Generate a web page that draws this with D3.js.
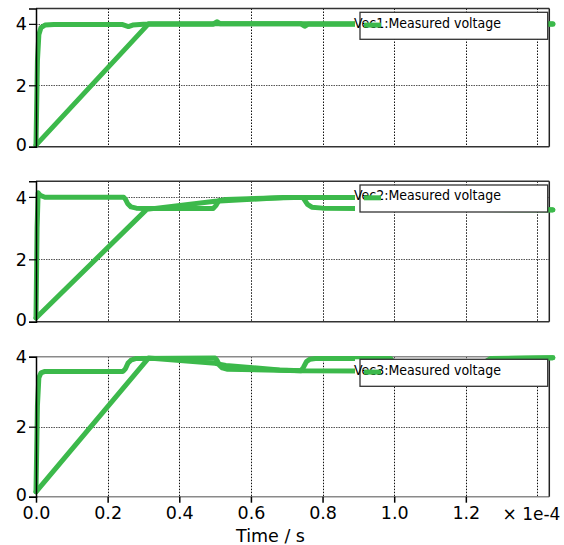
<!DOCTYPE html>
<html>
<head>
<meta charset="utf-8">
<script src="https://cdn.jsdelivr.net/npm/d3@7"></script>
<style>
  html, body { margin: 0; padding: 0; background: #fff; }
  svg { display: block; font-family: "DejaVu Sans", sans-serif; }
</style>
</head>
<body>
<svg id="chart" width="564" height="545"></svg>
<script>
// Time values are in units of 1e-4 s, voltages in V.
const xTickValues = [0, 0.2, 0.4, 0.6, 0.8, 1.0, 1.2];
const xGridValues = [0.2, 0.4, 0.6, 0.8, 1.0, 1.2, 1.4];
const yTickValues = [0, 2, 4];
const legendLabels = ["Vec1:Measured voltage", "Vec2:Measured voltage", "Vec3:Measured voltage"];
const xUnitLabel = "\u00d7 1e-4";
const xAxisTitle = "Time / s";

// Vec1
const vec1FastTime = [0, 0.004, 0.008, 0.014, 0.025, 0.05, 0.24, 0.25, 0.258, 0.27, 0.3, 0.495, 0.505, 0.515, 0.74, 0.75, 0.76, 1.0, 1.25, 1.443];
const vec1FastVolt = [0.05, 2.8, 3.65, 3.88, 3.96, 3.98, 3.98, 3.94, 3.91, 3.96, 3.99, 3.99, 4.07, 4.0, 4.0, 3.92, 3.99, 3.99, 3.99, 3.99];
const vec1RampTime = [0, 0.314, 1.443];
const vec1RampVolt = [0.05, 4.0, 4.0];

// Vec2
const vec2FastTime = [0, 0.003, 0.006, 0.012, 0.025, 0.245, 0.25, 0.256, 0.265, 0.28, 0.3, 0.495, 0.502, 0.51, 0.53, 0.72, 0.745, 0.75, 0.758, 0.77, 0.8, 0.995, 1.005, 1.02, 1.245, 1.255, 1.27, 1.443];
const vec2FastVolt = [0.12, 3.0, 4.13, 4.05, 3.99, 3.99, 3.92, 3.78, 3.68, 3.64, 3.63, 3.63, 3.72, 3.88, 3.92, 3.98, 3.98, 3.9, 3.76, 3.67, 3.64, 3.62, 3.8, 3.92, 3.92, 3.75, 3.62, 3.59];
const vec2RampTime = [0, 0.309, 0.5, 0.69, 0.99, 1.0, 1.01, 1.02, 1.443];
const vec2RampVolt = [0.12, 3.6, 3.86, 3.98, 3.98, 3.85, 3.68, 3.62, 3.58];

// Vec3
const vec3FastTime = [0, 0.004, 0.008, 0.014, 0.025, 0.243, 0.25, 0.257, 0.265, 0.28, 0.5, 0.505, 0.512, 0.52, 0.535, 0.74, 0.747, 0.755, 0.765, 0.78, 0.99, 0.995, 1.005, 1.02, 1.245, 1.25, 1.258, 1.27, 1.443];
const vec3FastVolt = [0.14, 2.6, 3.4, 3.54, 3.58, 3.58, 3.66, 3.82, 3.9, 3.95, 3.96, 3.9, 3.76, 3.68, 3.64, 3.6, 3.7, 3.86, 3.93, 3.95, 3.95, 3.88, 3.7, 3.62, 3.61, 3.7, 3.88, 3.95, 3.97];
const vec3RampTime = [0, 0.314, 0.5, 0.53, 0.68, 0.74, 1.245, 1.255, 1.27, 1.443];
const vec3RampVolt = [0.14, 3.96, 3.81, 3.75, 3.62, 3.6, 3.58, 3.8, 3.94, 3.97];

const yMaxValues = [4.5, 4.5, 4.0];

const zip = (t, v) => t.map((d, i) => ({ t: d, v: v[i] }));
const panels = [
  { traces: [zip(vec1RampTime, vec1RampVolt), zip(vec1FastTime, vec1FastVolt)], yMax: yMaxValues[0], label: legendLabels[0] },
  { traces: [zip(vec2RampTime, vec2RampVolt), zip(vec2FastTime, vec2FastVolt)], yMax: yMaxValues[1], label: legendLabels[1] },
  { traces: [zip(vec3RampTime, vec3RampVolt), zip(vec3FastTime, vec3FastVolt)], yMax: yMaxValues[2], label: legendLabels[2] }
];

// layout
const plotLeft = 36, plotRight = 549.3;
const boxes = [
  { top: 8.5, bottom: 146.7, legendOffset: 3.8 },
  { top: 181.3, bottom: 321.7, legendOffset: 3.7 },
  { top: 356.7, bottom: 496.7, legendOffset: 2.6 }
];
const lineColor = "#3cb94b";
const tickFont = 17.5;

const svg = d3.select("#chart");
const x = d3.scaleLinear().domain([0, 1.433]).range([plotLeft, plotRight]);

panels.forEach((p, i) => {
  const box = boxes[i];
  const isLast = i === panels.length - 1;
  const y = d3.scaleLinear().domain([0, p.yMax]).range([box.bottom, box.top]);
  const g = svg.append("g");

  // vertical grid
  g.selectAll(".vgrid").data(xGridValues).enter().append("line")
    .attr("x1", d => Math.round(x(d)) + 0.5).attr("x2", d => Math.round(x(d)) + 0.5)
    .attr("y1", box.top).attr("y2", box.bottom)
    .attr("stroke", "#111").attr("stroke-width", 1).attr("stroke-dasharray", "1.5,1.5");

  // horizontal grid
  const hGrid = yTickValues.filter(d => d > 0 && y(d) > box.top + 1);
  g.selectAll(".hgrid").data(hGrid).enter().append("line")
    .attr("x1", plotLeft).attr("x2", plotRight)
    .attr("y1", d => Math.round(y(d)) + 0.5).attr("y2", d => Math.round(y(d)) + 0.5)
    .attr("stroke", "#555").attr("stroke-width", 1).attr("stroke-dasharray", "1.5,1");

  // frame (top, right, bottom)
  const frameColor = isLast ? "#8a8a8a" : "#333";
  g.append("line").attr("x1", plotLeft).attr("x2", plotRight).attr("y1", box.top).attr("y2", box.top)
    .attr("stroke", frameColor).attr("stroke-width", 1.5);
  g.append("line").attr("x1", plotLeft).attr("x2", plotRight).attr("y1", box.bottom).attr("y2", box.bottom)
    .attr("stroke", frameColor).attr("stroke-width", 1.5);
  g.append("line").attr("x1", plotRight).attr("x2", plotRight).attr("y1", box.top).attr("y2", box.bottom)
    .attr("stroke", "#222").attr("stroke-width", 1.5);

  // traces
  const line = d3.line().x(d => x(d.t)).y(d => y(d.v)).curve(d3.curveLinear);
  g.selectAll(".trace").data(p.traces).enter().append("path")
    .attr("d", line).attr("fill", "none").attr("stroke", lineColor)
    .attr("stroke-width", 5).attr("stroke-linejoin", "round").attr("stroke-linecap", "round");

  // y axis
  const yAxis = d3.axisLeft(y).tickValues(yTickValues).tickSize(7).tickPadding(2).tickFormat(d3.format("d"));
  const ya = g.append("g").attr("transform", `translate(${plotLeft},0)`).call(yAxis);
  ya.select(".domain").attr("stroke", "#000").attr("stroke-width", 1.5);
  ya.selectAll(".tick line").attr("stroke", "#000").attr("stroke-width", 1.2);
  ya.selectAll(".tick text").attr("font-size", tickFont).attr("font-family", "DejaVu Sans").attr("fill", "#000")
    .attr("dy", d => d === 0 ? "0.22em" : "0.35em");

  // x axis only under the last panel
  if (isLast) {
    const xAxis = d3.axisBottom(x).tickValues(xTickValues).tickSize(6).tickPadding(4).tickFormat(d3.format(".1f"));
    const xa = g.append("g").attr("transform", `translate(0,${box.bottom})`).call(xAxis);
    xa.select(".domain").remove();
    xa.selectAll(".tick line").attr("stroke", "#000").attr("stroke-width", 1.5);
    xa.selectAll(".tick text").attr("font-size", tickFont).attr("font-family", "DejaVu Sans").attr("fill", "#000");
    g.append("text").attr("x", 502.5).attr("y", 520).attr("font-size", 17).attr("fill", "#000").text(xUnitLabel);
    g.append("text").attr("x", 270.5).attr("y", 541.5).attr("text-anchor", "middle")
      .attr("font-size", 17.5).attr("fill", "#000").text(xAxisTitle);
  }

  // legend
  const ly = box.top + box.legendOffset;
  const lh = 27;
  g.append("rect").attr("x", 355).attr("y", ly).attr("width", 547.7 - 355).attr("height", lh).attr("fill", "#fff");
  g.append("rect").attr("x", 360).attr("y", ly).attr("width", 547.7 - 360).attr("height", lh)
    .attr("fill", "none").attr("stroke", "#333").attr("stroke-width", 1.3);
  g.append("text").attr("x", 354).attr("y", ly + 15.2)
    .attr("font-size", 14).attr("font-family", "DejaVu Sans Condensed, DejaVu Sans")
    .attr("font-stretch", "condensed").attr("fill", "#000").text(p.label);
  g.append("line").attr("x1", 364).attr("x2", 381).attr("y1", ly + 12.8).attr("y2", ly + 12.8)
    .attr("stroke", lineColor).attr("stroke-width", 5);
});
</script>
</body>
</html>
